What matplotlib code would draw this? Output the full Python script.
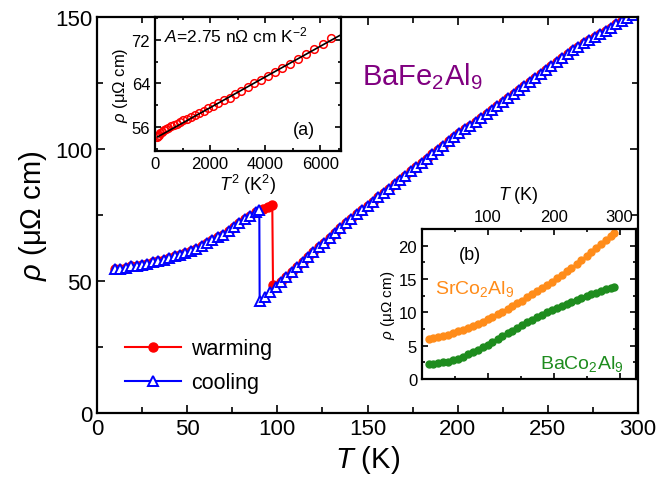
import matplotlib
matplotlib.use("Agg")
import matplotlib.pyplot as plt
from matplotlib.ticker import MultipleLocator, FixedLocator

plt.rcParams['font.family'] = ['Liberation Sans', 'DejaVu Sans']
plt.rcParams['mathtext.fontset'] = 'custom'
plt.rcParams['mathtext.rm'] = 'Liberation Sans'
plt.rcParams['mathtext.it'] = 'Liberation Sans:italic'
plt.rcParams['mathtext.bf'] = 'Liberation Sans:bold'

# ---------------- main panel data ----------------
cool_T = [10, 13, 16, 19, 22, 25, 28, 31, 34, 37, 40, 43, 46, 49, 52, 55, 58, 61, 64, 67,
          70, 73, 76, 79, 82, 85, 88, 90, 90.2,
          93, 96, 99, 102, 105, 108, 111, 114, 117, 120, 123, 126, 129, 132, 135, 138, 141,
          144, 147, 150, 153, 156, 159, 162, 165, 168, 171, 174, 177, 180, 183, 186, 189,
          192, 195, 198, 201, 204, 207, 210, 213, 216, 219, 222, 225, 228, 231, 234, 237,
          240, 243, 246, 249, 252, 255, 258, 261, 264, 267, 270, 273, 276, 279, 282, 285,
          288, 291, 294, 297, 300]
cool_rho = [54.4, 54.7, 55.1, 55.5, 55.8, 56.2, 56.6, 57.1, 57.5, 58.1, 58.6, 59.3, 59.9, 60.7,
            61.4, 62.3, 63.3, 64.3, 65.4, 66.5, 67.6, 68.9, 70.3, 71.8, 73.3, 74.8, 76.1, 76.8, 42.6,
            44.1, 45.9, 47.8, 49.7, 51.5, 53.4, 55.2, 57.1, 59.0, 60.8, 62.7, 64.5, 66.4, 68.2,
            70.0, 71.8, 73.6, 75.2, 76.9, 78.5, 80.1, 81.8, 83.4, 85.0, 86.7, 88.3, 89.9, 91.5,
            93.2, 94.8, 96.4, 98.0, 99.7, 101.3, 102.9, 104.4, 105.9, 107.4, 108.9, 110.4,
            111.9, 113.4, 114.9, 116.4, 117.9, 119.4, 120.9, 122.4, 123.9, 125.4, 126.9, 128.4,
            129.9, 131.4, 132.9, 134.4, 135.9, 137.4, 138.8, 140.0, 141.2, 142.4, 143.6, 144.8,
            146.0, 147.2, 148.4, 149.6, 150.8, 152.0]

warm_T = [10, 13, 16, 19, 22, 25, 28, 31, 34, 37, 40, 43, 46, 49, 52, 55, 58, 61, 64, 67,
          70, 73, 76, 79, 82, 85, 88, 92, 95, 97.2, 97.6,
          102, 105, 108, 111, 114, 117, 120, 123, 126, 129, 132, 135, 138, 141,
          144, 147, 150, 153, 156, 159, 162, 165, 168, 171, 174, 177, 180, 183, 186, 189,
          192, 195, 198, 201, 204, 207, 210, 213, 216, 219, 222, 225, 228, 231, 234, 237,
          240, 243, 246, 249, 252, 255, 258, 261, 264, 267, 270, 273, 276, 279, 282, 285,
          288, 291, 294, 297, 300]
warm_rho = [54.4, 54.7, 55.1, 55.5, 55.8, 56.2, 56.6, 57.1, 57.5, 58.1, 58.6, 59.3, 59.9, 60.7,
            61.4, 62.3, 63.3, 64.3, 65.4, 66.5, 67.6, 68.9, 70.3, 71.8, 73.3, 74.8, 76.1,
            77.4, 78.2, 78.9, 48.6,
            49.7, 51.5, 53.4, 55.2, 57.1, 59.0, 60.8, 62.7, 64.5, 66.4, 68.2,
            70.0, 71.8, 73.6, 75.2, 76.9, 78.5, 80.1, 81.8, 83.4, 85.0, 86.7, 88.3, 89.9, 91.5,
            93.2, 94.8, 96.4, 98.0, 99.7, 101.3, 102.9, 104.4, 105.9, 107.4, 108.9, 110.4,
            111.9, 113.4, 114.9, 116.4, 117.9, 119.4, 120.9, 122.4, 123.9, 125.4, 126.9, 128.4,
            129.9, 131.4, 132.9, 134.4, 135.9, 137.4, 138.8, 140.0, 141.2, 142.4, 143.6, 144.8,
            146.0, 147.2, 148.4, 149.6, 150.8, 152.0]

# ---------------- inset (a): rho vs T^2 ----------------
a_T2 = [64, 100, 144, 196, 256, 324, 400, 484, 576, 676, 784, 900, 1024, 1156, 1296, 1444,
        1600, 1764, 1936, 2116, 2304, 2500, 2704, 2916, 3136, 3364, 3600, 3844, 4096, 4356,
        4624, 4900, 5184, 5476, 5776, 6084, 6400]
a_rho = [54.2, 54.4, 54.6, 54.9, 55.1, 55.4, 55.6, 55.8, 56.1, 56.4, 56.6, 56.9, 57.2, 57.5,
         57.9, 58.2, 58.6, 59.0, 59.5, 59.9, 60.4, 60.9, 61.4, 62.0, 62.6, 63.3, 64.0, 64.6,
         65.4, 66.1, 66.8, 67.6, 68.5, 69.4, 70.3, 71.3, 72.3]
fit_T2 = [100, 6700]
fit_rho = [54.2, 72.8]

# ---------------- inset (b) ----------------
b_T = [10, 17, 25, 32, 40, 47, 55, 62, 70, 77, 85, 92, 100, 107, 115, 122, 130, 137, 145, 152,
       160, 167, 175, 182, 190, 197, 205, 212, 220, 227, 235, 242, 250, 257, 265, 272, 280, 287, 292]
sr_rho = [6.0, 6.15, 6.3, 6.45, 6.65, 6.9, 7.15, 7.4, 7.7, 8.0, 8.3, 8.6, 8.95, 9.3, 9.7, 10.1,
          10.5, 10.9, 11.35, 11.75, 12.25, 12.7, 13.2, 13.65, 14.15, 14.6, 15.15, 15.65, 16.2,
          16.7, 17.3, 17.85, 18.45, 19.0, 19.6, 20.2, 20.85, 21.45, 21.85]
ba_rho = [2.3, 2.32, 2.38, 2.48, 2.62, 2.8, 3.05, 3.35, 3.7, 4.05, 4.4, 4.75, 5.15, 5.55, 6.0,
          6.4, 6.85, 7.25, 7.7, 8.1, 8.5, 8.9, 9.3, 9.65, 10.0, 10.35, 10.7, 11.0, 11.3, 11.6,
          11.9, 12.15, 12.45, 12.7, 12.95, 13.2, 13.45, 13.7, 13.85]
b_top_ticks = [100, 200, 300]

fig = plt.figure(figsize=(6.56, 4.85), dpi=100)

def style_ax(ax, lab=13, maj=5, mnr=3):
    ax.tick_params(which='both', direction='in', top=True, right=True, labelsize=lab, width=1.2)
    ax.tick_params(which='major', length=maj)
    ax.tick_params(which='minor', length=mnr)
    for s in ax.spines.values():
        s.set_linewidth(1.6)

RHO_LABEL = r'$\rho$ (μΩ cm)'

# main axes
ax = fig.add_axes([97/656, 1-414/485, (638-97)/656, (414-18)/485])
ax.plot(warm_T, warm_rho, '-o', color='red', lw=1.5, ms=6.5, mec='red', mfc='red', label='warming')
ax.plot(cool_T, cool_rho, '-^', color='blue', lw=1.5, ms=7.5, mec='blue', mfc='white', mew=1.4,
        label='cooling')
ax.set_xlim(0, 300)
ax.set_ylim(0, 150)
ax.xaxis.set_major_locator(MultipleLocator(50))
ax.xaxis.set_minor_locator(MultipleLocator(25))
ax.yaxis.set_major_locator(MultipleLocator(50))
ax.yaxis.set_minor_locator(MultipleLocator(25))
style_ax(ax, lab=16, maj=6, mnr=4)
ax.set_xlabel(r'$T$ (K)', fontsize=21, labelpad=3)
ax.set_ylabel(RHO_LABEL, fontsize=21, labelpad=4)
leg = ax.legend(loc='upper left', bbox_to_anchor=(0.035, 0.21), frameon=False, fontsize=15.5,
                handlelength=2.6, handletextpad=0.5, labelspacing=0.6, borderaxespad=0)
ax.text(0.49, 0.83, r'BaFe$_2$Al$_9$', transform=ax.transAxes, color='#800080', fontsize=21)

# inset (a)
axa = fig.add_axes([155/656, 1-152/485, (341-155)/656, (152-18)/485])
axa.plot(fit_T2, fit_rho, '-', color='black', lw=1.2, zorder=3)
axa.plot(a_T2, a_rho, 'o', ms=5.5, mfc='none', mec='red', mew=1.1, zorder=2)
axa.set_xlim(0, 6750)
axa.set_ylim(51.6, 76.2)
axa.xaxis.set_major_locator(MultipleLocator(2000))
axa.xaxis.set_minor_locator(MultipleLocator(1000))
axa.yaxis.set_major_locator(MultipleLocator(8))
axa.yaxis.set_minor_locator(MultipleLocator(4))
style_ax(axa, lab=12, maj=4, mnr=2.5)
axa.set_xlabel(r'$T^2$ (K$^2$)', fontsize=13, labelpad=1)
axa.set_ylabel(RHO_LABEL, fontsize=12, labelpad=1)
axa.text(0.05, 0.82, r'$A$=2.75 nΩ cm K$^{-2}$', transform=axa.transAxes, fontsize=12.5)
axa.text(0.74, 0.13, '(a)', transform=axa.transAxes, fontsize=13)

# inset (b)
axb = fig.add_axes([422/656, 1-380/485, (636-422)/656, (380-230)/485])
axb.plot(b_T, sr_rho, 'o', color='#FF8C1A', ms=5)
axb.plot(b_T, ba_rho, 'o', color='#1E8C1E', ms=5)
axb.set_xlim(0, 325)
axb.set_ylim(0, 22.5)
axb.xaxis.set_major_locator(FixedLocator(b_top_ticks))
axb.xaxis.set_minor_locator(MultipleLocator(50))
axb.yaxis.set_major_locator(MultipleLocator(5))
axb.yaxis.set_minor_locator(MultipleLocator(2.5))
style_ax(axb, lab=12, maj=4, mnr=2.5)
axb.tick_params(labelbottom=False, labeltop=True)
axb.xaxis.set_label_position('top')
axb.set_xlabel(r'$T$ (K)', fontsize=13, labelpad=2)
axb.xaxis.set_label_coords(0.45, 1.2)
axb.set_ylabel(RHO_LABEL, fontsize=11, labelpad=1)
axb.text(0.17, 0.8, '(b)', transform=axb.transAxes, fontsize=13)
axb.text(0.06, 0.575, r'SrCo$_2$Al$_9$', transform=axb.transAxes, fontsize=14, color='#FF8C1A')
axb.text(0.55, 0.07, r'BaCo$_2$Al$_9$', transform=axb.transAxes, fontsize=14, color='#1E8C1E')

fig.savefig('out.png', dpi=100)
